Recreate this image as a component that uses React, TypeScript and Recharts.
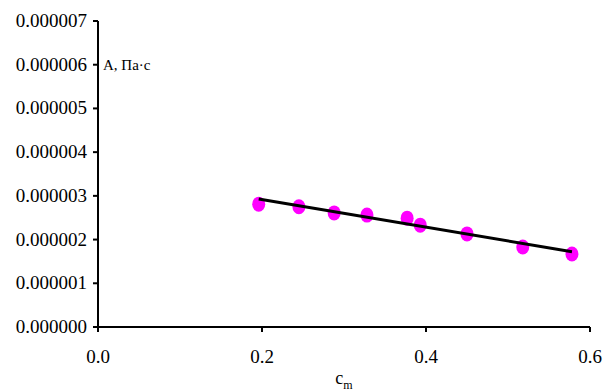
import React from 'react';
import {
  ScatterChart,
  Scatter,
  XAxis,
  YAxis,
  ReferenceDot,
  Label,
} from 'recharts';

// measured points: concentration c_m vs A (Pa·s)
const cm = [0.196, 0.245, 0.288, 0.328, 0.377, 0.393, 0.45, 0.518, 0.578];
const aValues = [2.81e-6, 2.75e-6, 2.61e-6, 2.56e-6, 2.49e-6, 2.33e-6, 2.13e-6, 1.83e-6, 1.67e-6];

// linear trend endpoints
const trendX = [0.196, 0.578];
const trendY = [2.93e-6, 1.72e-6];

const xTicks = [0, 0.2, 0.4, 0.6];
const yTicks = [0, 1e-6, 2e-6, 3e-6, 4e-6, 5e-6, 6e-6, 7e-6];

const points = cm.map((x, i) => ({ x, y: aValues[i] }));
const trend = trendX.map((x, i) => ({ x, y: trendY[i] }));

const FONT = "'Times New Roman', 'Liberation Serif', serif";

const Dot = (props: any) => {
  const { cx, cy } = props;
  return <ellipse cx={cx} cy={cy} rx={6.5} ry={7.5} fill="#FF00FF" />;
};

const NoDot = () => <g />;

const XTick = (props: any) => {
  const { x, y, payload } = props;
  return (
    <text x={x} y={y + 29} textAnchor="middle" style={{ fontFamily: FONT, fontSize: 19 }} fill="#000">
      {payload.value.toFixed(1)}
    </text>
  );
};

const YTick = (props: any) => {
  const { x, y, payload } = props;
  return (
    <text x={x - 4} y={y + 6} textAnchor="end" style={{ fontFamily: FONT, fontSize: 19 }} fill="#000">
      {payload.value.toFixed(6)}
    </text>
  );
};

const XLabel = (props: any) => {
  const { viewBox } = props;
  const cx = viewBox.x + viewBox.width / 2;
  return (
    <text x={cx} y={viewBox.y + 57} textAnchor="middle" style={{ fontFamily: FONT, fontSize: 18 }} fill="#000">
      c
      <tspan style={{ fontSize: 12 }} dy={5}>m</tspan>
    </text>
  );
};

const UnitLabel = (props: any) => {
  const { viewBox } = props;
  return (
    <text x={viewBox.x + 5} y={viewBox.y + 5} style={{ fontFamily: FONT, fontSize: 15 }} fill="#000">
      A, Па·с
    </text>
  );
};

export default function App() {
  return (
    <div style={{ position: 'absolute', left: 0, top: 0, background: '#fff' }}>
      <ScatterChart width={604} height={392} margin={{ top: 21, right: 14, bottom: 0, left: 0 }}>
        <XAxis
          type="number"
          dataKey="x"
          domain={[0, 0.6]}
          ticks={xTicks}
          axisLine={{ stroke: '#000', strokeWidth: 2 }}
          tickLine={{ stroke: '#000', strokeWidth: 2 }}
          tickSize={5}
          height={65}
          tick={<XTick />}
        >
          <Label content={<XLabel />} />
        </XAxis>
        <YAxis
          type="number"
          dataKey="y"
          domain={[0, 7e-6]}
          ticks={yTicks}
          axisLine={{ stroke: '#000', strokeWidth: 2 }}
          tickLine={{ stroke: '#000', strokeWidth: 2 }}
          tickSize={5}
          width={98}
          tick={<YTick />}
        />
        <Scatter data={points} shape={<Dot />} isAnimationActive={false} />
        <Scatter
          data={trend}
          shape={<NoDot />}
          line={{ stroke: '#000', strokeWidth: 3 }}
          isAnimationActive={false}
        />
        <ReferenceDot
          x={0}
          y={6e-6}
          r={0}
          ifOverflow="visible"
          shape={<NoDot />}
          label={<UnitLabel />}
        />
      </ScatterChart>
    </div>
  );
}
